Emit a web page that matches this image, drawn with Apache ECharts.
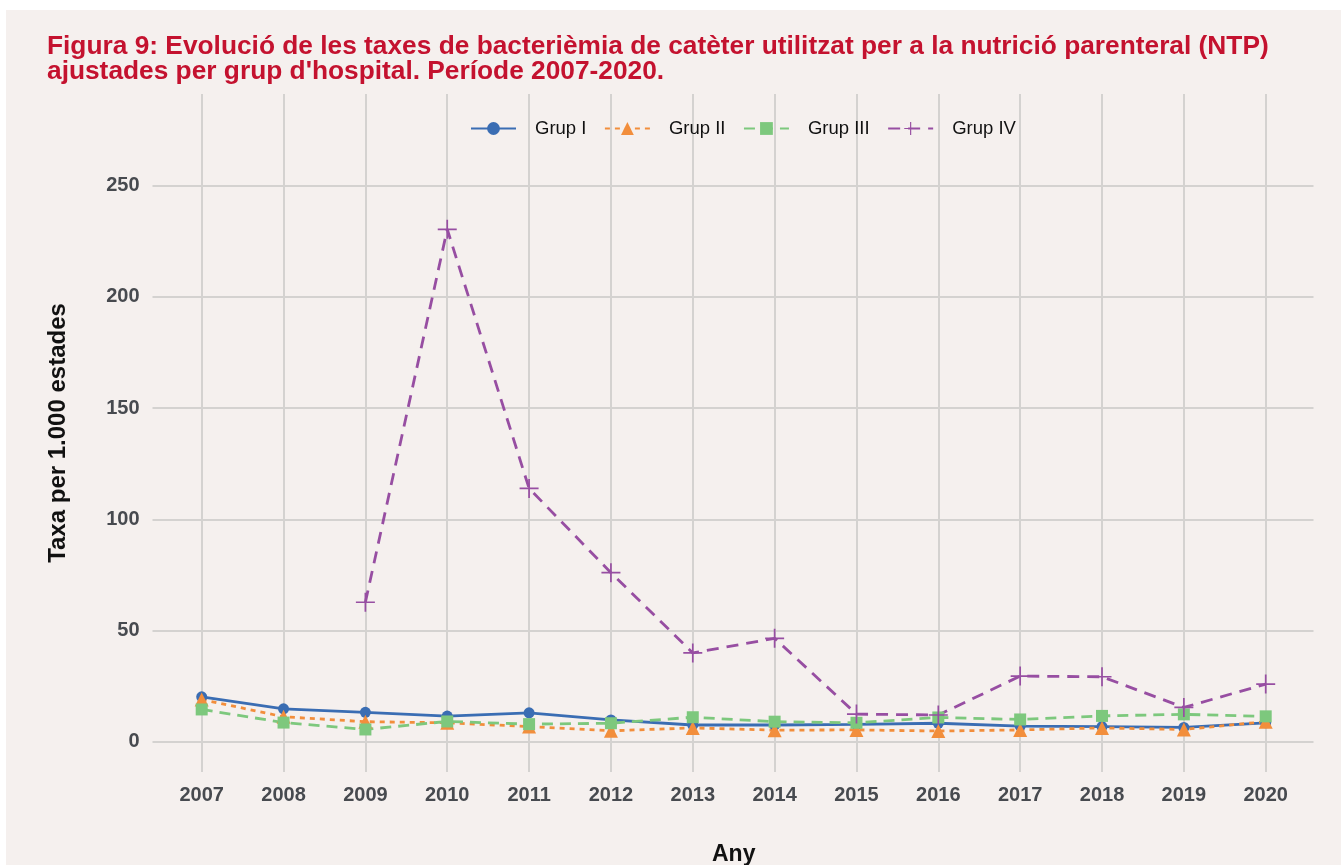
<!DOCTYPE html>
<html>
<head>
<meta charset="utf-8">
<script src="https://cdn.jsdelivr.net/npm/echarts@6/dist/echarts.min.js"></script>
<style>
  html, body { margin: 0; padding: 0; background: #ffffff; }
  #container { width: 1341px; height: 865px; }
</style>
</head>
<body>
<div id="container"></div>
<script>
// anys i taxes per grup d'hospital (llegits del gràfic)
var anys = ['2007', '2008', '2009', '2010', '2011', '2012', '2013', '2014', '2015', '2016', '2017', '2018', '2019', '2020'];
var grupI = [20.2, 14.8, 13.2, 11.5, 13.0, 9.8, 7.5, 7.5, 7.8, 8.3, 7.0, 6.8, 6.4, 8.5];
var grupII = [19.0, 11.2, 9.0, 8.5, 6.8, 4.9, 6.2, 5.2, 5.3, 4.8, 5.3, 6.2, 5.5, 9.0];
var grupIII = [14.5, 8.6, 5.5, 9.1, 7.9, 8.3, 11.0, 9.0, 8.5, 10.9, 10.0, 11.6, 12.3, 11.4];
var grupIV = [null, null, 62.7, 230.4, 113.9, 76.0, 39.9, 46.5, 12.4, 12.0, 29.5, 29.2, 15.4, 25.9];
var ticksY = [0, 50, 100, 150, 200, 250];

var titol = "Figura 9: Evolució de les taxes de bacterièmia de catèter utilitzat per a la nutrició parenteral (NTP)\najustades per grup d'hospital. Període 2007-2020.";

var font = "'Liberation Sans', Arial, sans-serif";
var colGrid = '#d4d2d0';

var myChart = echarts.init(document.getElementById('container'));

function serie(nom, dades, color, tipus, simbol, mida) {
	return {
		name: nom,
		type: 'line',
		xAxisIndex: 2,
		yAxisIndex: 2,
		data: dades,
		symbol: simbol,
		symbolSize: mida,
		showSymbol: true,
		connectNulls: false,
		clip: false,
		itemStyle: { color: color },
		lineStyle: { color: color, width: 2.8, type: tipus },
		emphasis: { disabled: true },
		animation: false
	};
}

var plus = 'path://M4.55,0h0.9v10h-0.9zM0,4.55h10v0.9h-10z';

var option = {
	backgroundColor: '#ffffff',
	animation: false,
	graphic: [{
		type: 'rect',
		z: -10,
		shape: { x: 6, y: 10, width: 1335, height: 855 },
		style: { fill: '#f5f0ee' }
	}],
	title: {
		text: titol,
		left: 42,
		top: 29,
		textStyle: {
			color: '#c4122f',
			fontFamily: font,
			fontWeight: 'bold',
			fontSize: 26.3,
			lineHeight: 25
		}
	},
	legend: {
		left: 465,
		top: 114,
		itemWidth: 45,
		itemHeight: 16,
		itemGap: 17.5,
		textStyle: { fontFamily: font, fontSize: 18.5, color: '#111111', padding: [0, 0, 0, 14] },
		data: ['Grup I', 'Grup II', 'Grup III', 'Grup IV']
	},
	grid: [
		// línies horitzontals i etiquetes de l'eix Y
		{ left: 152.5, right: 27.5, top: 185.7, bottom: 123.3, outerBoundsMode: 'none' },
		// línies verticals, etiquetes de l'eix X i títols dels eixos
		{ left: 201.7, right: 75.3, top: 94, bottom: 93, outerBoundsMode: 'none' },
		// dades
		{ left: 201.7, right: 75.3, top: 185.7, bottom: 123.3, outerBoundsMode: 'none' }
	],
	xAxis: [
		{ gridIndex: 0, type: 'value', min: 0, max: 1, show: false },
		{
			gridIndex: 1,
			type: 'category',
			data: anys,
			boundaryGap: false,
			axisLine: { show: false },
			axisTick: { show: false },
			splitLine: { show: true, lineStyle: { color: colGrid, width: 2 } },
			axisLabel: { margin: 13, fontFamily: font, fontWeight: 'bold', fontSize: 20, color: '#474a4f' },
			name: 'Any',
			nameLocation: 'middle',
			nameGap: 71,
			nameTextStyle: { fontFamily: font, fontWeight: 'bold', fontSize: 23, color: '#111111' }
		},
		{ gridIndex: 2, type: 'category', data: anys, boundaryGap: false, show: false }
	],
	yAxis: [
		{
			gridIndex: 0,
			type: 'value',
			min: ticksY[0],
			max: ticksY[ticksY.length - 1],
			interval: 50,
			axisLine: { show: false },
			axisTick: { show: false },
			splitLine: { show: true, lineStyle: { color: colGrid, width: 2 } },
			axisLabel: { margin: 13, fontFamily: font, fontWeight: 'bold', fontSize: 20, color: '#474a4f' }
		},
		{
			gridIndex: 1,
			type: 'value',
			min: 0,
			max: 1,
			axisLine: { show: false },
			axisTick: { show: false },
			axisLabel: { show: false },
			splitLine: { show: false },
			name: 'Taxa per 1.000 estades',
			nameLocation: 'middle',
			nameRotate: 90,
			nameGap: 131,
			nameTextStyle: { fontFamily: font, fontWeight: 'bold', fontSize: 24, color: '#111111' }
		},
		{
			gridIndex: 2,
			type: 'value',
			min: ticksY[0],
			max: ticksY[ticksY.length - 1],
			show: false
		}
	],
	series: [
		serie('Grup I', grupI, '#3a6db3', 'solid', 'circle', 11),
		serie('Grup II', grupII, '#f28e3c', [5, 5], 'triangle', 14),
		serie('Grup III', grupIII, '#7dc87d', [11, 7], 'rect', 12),
		serie('Grup IV', grupIV, '#974ea2', [12, 8], plus, 19)
	]
};

myChart.setOption(option);
</script>
</body>
</html>
